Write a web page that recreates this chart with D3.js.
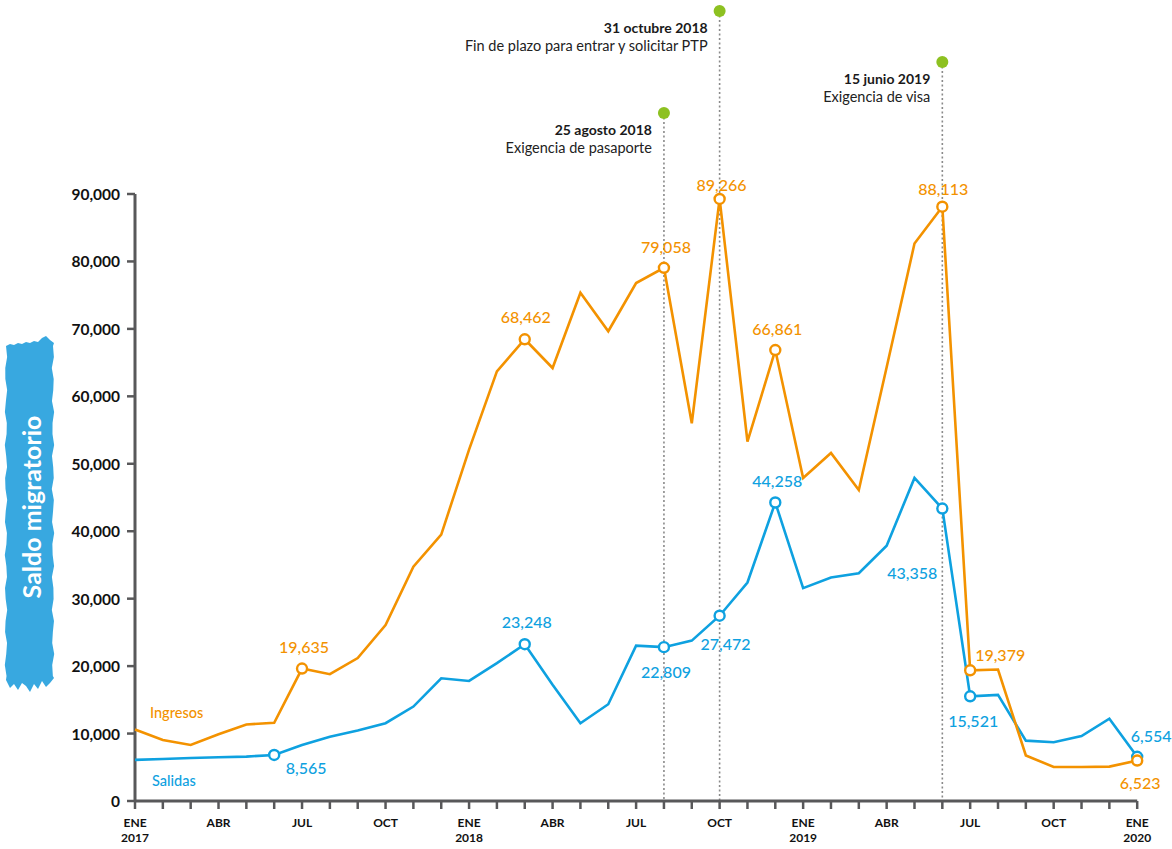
<!DOCTYPE html>
<html>
<head>
<meta charset="utf-8">
<script src="https://cdn.jsdelivr.net/npm/d3@7"></script>
<style>
  body { margin: 0; background: #fff; }
  svg text { font-family: Lato, "Noto Sans", sans-serif; }
</style>
</head>
<body>
<div id="chart"></div>
<script>
// months, ENE 2017 .. ENE 2020
var months = [
  "2017-01","2017-02","2017-03","2017-04","2017-05","2017-06","2017-07","2017-08","2017-09","2017-10","2017-11","2017-12",
  "2018-01","2018-02","2018-03","2018-04","2018-05","2018-06","2018-07","2018-08","2018-09","2018-10","2018-11","2018-12",
  "2019-01","2019-02","2019-03","2019-04","2019-05","2019-06","2019-07","2019-08","2019-09","2019-10","2019-11","2019-12",
  "2020-01"
];

var ingresos = [
  10600, 9050, 8300, 9900, 11350, 11600, 19635, 18800, 21200, 26100, 34750, 39500,
  52100, 63700, 68462, 64200, 75350, 69650, 76800, 79058, 56000, 89266, 53300, 66861,
  47900, 51600, 46100, 64300, 82650, 88113, 19379, 19500, 6750, 5050, 5050, 5100,
  6000
];

var salidas = [
  6100, 6230, 6380, 6480, 6580, 6830, 8300, 9540, 10450, 11530, 14000, 18200,
  17800, 20450, 23248, 17250, 11530, 14350, 23040, 22809, 23780, 27472, 32400, 44258,
  31560, 33130, 33780, 37850, 47900, 43358, 15521, 15730, 8950, 8710, 9640, 12210,
  6554
];

var yTicks = [0, 10000, 20000, 30000, 40000, 50000, 60000, 70000, 80000, 90000];

var tickLabels = {
  "2017-01": ["ENE", "2017"], "2017-04": ["ABR"], "2017-07": ["JUL"], "2017-10": ["OCT"],
  "2018-01": ["ENE", "2018"], "2018-04": ["ABR"], "2018-07": ["JUL"], "2018-10": ["OCT"],
  "2019-01": ["ENE", "2019"], "2019-04": ["ABR"], "2019-07": ["JUL"], "2019-10": ["OCT"],
  "2020-01": ["ENE", "2020"]
};

// labelled points: month, text shown
var ingresosLabels = [
  ["2017-07", "19,635"], ["2018-03", "68,462"], ["2018-08", "79,058"], ["2018-10", "89,266"],
  ["2018-12", "66,861"], ["2019-06", "88,113"], ["2019-07", "19,379"], ["2020-01", "6,523"]
];
var salidasLabels = [
  ["2017-06", "8,565"], ["2018-03", "23,248"], ["2018-08", "22,809"], ["2018-10", "27,472"],
  ["2018-12", "44,258"], ["2019-06", "43,358"], ["2019-07", "15,521"], ["2020-01", "6,554"]
];

var events = [
  ["2018-08", "25 agosto 2018", "Exigencia de pasaporte"],
  ["2018-10", "31 octubre 2018", "Fin de plazo para entrar y solicitar PTP"],
  ["2019-06", "15 junio 2019", "Exigencia de visa"]
];

// layout
var W = 1172, H = 849;
var margin = {top: 194, left: 135};
var orange = "#f39200", blue = "#0ea1e0", green = "#8dc121", axisColor = "#58585a";

// label offsets (dx, dy, anchor) keyed by month
var ingOffsets = {
  "2017-07": [2, -22, "middle"], "2018-03": [1, -23, "middle"], "2018-08": [2, -21, "middle"],
  "2018-10": [2, -14, "middle"], "2018-12": [2, -22, "middle"], "2019-06": [1, -18, "middle"],
  "2019-07": [30, -16, "middle"], "2020-01": [3, 22, "middle"]
};
var salOffsets = {
  "2017-06": [32, 13, "middle"], "2018-03": [2, -23, "middle"], "2018-08": [2, 24, "middle"],
  "2018-10": [6, 28, "middle"], "2018-12": [2, -22, "middle"], "2019-06": [-5, 64, "end"],
  "2019-07": [3, 24, "middle"], "2020-01": [14, -21, "middle"]
};
var eventDotY = {"2018-08": 113, "2018-10": 11, "2019-06": 62};

var x = d3.scalePoint().domain(months).range([0, 1002.2]);
var y = d3.scaleLinear().domain([0, 90000]).range([607, 0]);

var svg = d3.select("#chart").append("svg")
    .attr("width", W)
    .attr("height", H);

// y axis title on a brush stroke
var brush = svg.append("g").attr("class", "ytitle");
(function() {
  var pts = [], i;
  var top = [346, 344, 345, 343, 344, 342, 343, 341, 342, 338, 336, 340, 343];
  var bot = [680, 688, 684, 690, 683, 686, 692, 684, 689, 681, 687, 683, 678];
  top.forEach(function(v, k) { pts.push([6 + k * 4, v]); });
  for (i = 0; i <= 30; i++) pts.push([53 + 1.2 * Math.sin(i * 2.3), 346 + i * 11]);
  for (i = bot.length - 1; i >= 0; i--) pts.push([6 + i * 4, bot[i]]);
  for (i = 30; i >= 0; i--) pts.push([6 + 1.2 * Math.sin(i * 1.9), 346 + i * 11]);
  brush.append("path")
    .attr("d", d3.line()(pts) + "Z")
    .attr("fill", "#38a8e0");
})();
brush.append("text")
  .attr("transform", "translate(31,507) rotate(-90)")
  .attr("text-anchor", "middle")
  .attr("dominant-baseline", "central")
  .attr("fill", "#fff")
  .style("font-size", "25px")
  .style("font-weight", "700")
  .text("Saldo migratorio");

var g = svg.append("g")
    .attr("transform", "translate(" + margin.left + "," + margin.top + ")");

// event lines
var ev = g.selectAll(".event").data(events).enter().append("g")
    .attr("class", "event")
    .attr("transform", function(d) { return "translate(" + x(d[0]) + ",0)"; });
ev.append("line")
  .attr("y1", function(d) { return eventDotY[d[0]] - margin.top; })
  .attr("y2", y(0))
  .attr("stroke", "#8a8a8a")
  .attr("stroke-width", 1.6)
  .attr("stroke-dasharray", "2,2.5");
ev.append("circle")
  .attr("cy", function(d) { return eventDotY[d[0]] - margin.top; })
  .attr("r", 6)
  .attr("fill", green);
ev.append("text")
  .attr("x", -12)
  .attr("y", function(d) { return eventDotY[d[0]] - margin.top + 22; })
  .attr("text-anchor", "end")
  .style("font-size", "14px")
  .style("font-weight", "700")
  .attr("fill", "#1a1a1a")
  .text(function(d) { return d[1]; });
ev.append("text")
  .attr("x", -12)
  .attr("y", function(d) { return eventDotY[d[0]] - margin.top + 40; })
  .attr("text-anchor", "end")
  .style("font-size", "14.5px")
  .style("font-weight", "400")
  .attr("fill", "#222")
  .text(function(d) { return d[2]; });

// axes
var yAxis = g.append("g").attr("class", "y-axis");
yAxis.append("line")
  .attr("y1", y(90000)).attr("y2", y(0))
  .attr("stroke", axisColor).attr("stroke-width", 3);
var yt = yAxis.selectAll(".tick").data(yTicks).enter().append("g")
  .attr("transform", function(d) { return "translate(0," + y(d) + ")"; });
yt.append("line").attr("x1", -8).attr("x2", 0)
  .attr("stroke", axisColor).attr("stroke-width", 2.5);
yt.append("text")
  .attr("x", -15)
  .attr("text-anchor", "end")
  .attr("dominant-baseline", "central")
  .style("font-size", "15.5px")
  .style("font-weight", "700")
  .attr("fill", "#111")
  .text(function(d) { return d3.format(",")(d); });

var xAxis = g.append("g").attr("class", "x-axis")
  .attr("transform", "translate(0," + y(0) + ")");
xAxis.append("line")
  .attr("x1", 0).attr("x2", x(months[months.length - 1]))
  .attr("stroke", axisColor).attr("stroke-width", 3);
var xt = xAxis.selectAll(".tick").data(months).enter().append("g")
  .attr("transform", function(d) { return "translate(" + x(d) + ",0)"; });
xt.append("line").attr("y1", 0).attr("y2", 8)
  .attr("stroke", axisColor).attr("stroke-width", 2.5);
xt.each(function(d) {
  var lab = tickLabels[d];
  if (!lab) return;
  var t = d3.select(this).append("text")
    .attr("text-anchor", "middle")
    .style("font-size", "12px")
    .style("font-weight", "700")
    .attr("fill", "#111");
  lab.forEach(function(s, i) {
    t.append("tspan").attr("x", 0).attr("y", 26 + i * 15).text(s);
  });
});

// lines
var line = d3.line()
  .x(function(d, i) { return x(months[i]); })
  .y(function(d) { return y(d); });

g.append("path").datum(salidas)
  .attr("d", line)
  .attr("fill", "none")
  .attr("stroke", blue)
  .attr("stroke-width", 2.6)
  .attr("stroke-linejoin", "miter");

g.append("path").datum(ingresos)
  .attr("d", line)
  .attr("fill", "none")
  .attr("stroke", orange)
  .attr("stroke-width", 2.6)
  .attr("stroke-linejoin", "miter");

function drawMarks(series, labels, offsets, color) {
  var grp = g.append("g");
  labels.forEach(function(l) {
    var i = months.indexOf(l[0]);
    var cx = x(l[0]), cy = y(series[i]);
    grp.append("circle")
      .attr("cx", cx).attr("cy", cy).attr("r", 5)
      .attr("fill", "#fff")
      .attr("stroke", color)
      .attr("stroke-width", 2.4);
    var o = offsets[l[0]];
    grp.append("text")
      .attr("x", cx + o[0]).attr("y", cy + o[1])
      .attr("text-anchor", o[2])
      .attr("dominant-baseline", "central")
      .attr("fill", color)
      .style("font-size", "16px")
      .style("font-weight", "500")
      .text(l[1]);
  });
}
drawMarks(salidas, salidasLabels, salOffsets, blue);
drawMarks(ingresos, ingresosLabels, ingOffsets, orange);

// series names
g.append("text")
  .attr("x", x(months[0]) + 15).attr("y", y(ingresos[0]) - 17)
  .attr("dominant-baseline", "central")
  .attr("fill", orange)
  .style("font-size", "14.5px").style("font-weight", "500")
  .text("Ingresos");
g.append("text")
  .attr("x", x(months[0]) + 17).attr("y", y(salidas[0]) + 21)
  .attr("dominant-baseline", "central")
  .attr("fill", blue)
  .style("font-size", "14.5px").style("font-weight", "500")
  .text("Salidas");
</script>
</body>
</html>
